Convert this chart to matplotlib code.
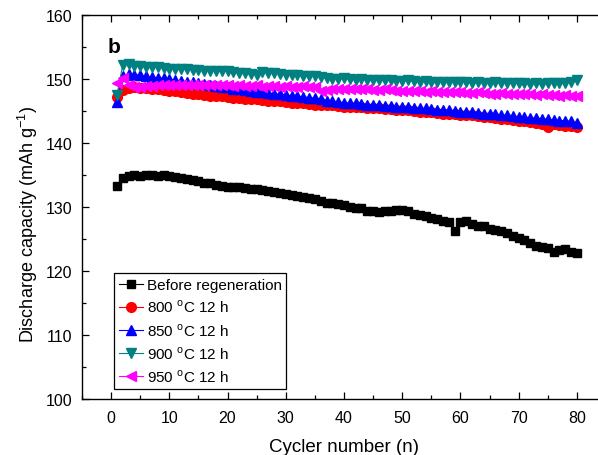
import matplotlib
matplotlib.use("Agg")
import matplotlib.pyplot as plt
from matplotlib.ticker import MultipleLocator

plt.rcParams['font.family'] = ['Liberation Sans', 'DejaVu Sans']
plt.rcParams['mathtext.fontset'] = 'custom'
plt.rcParams['mathtext.rm'] = 'Liberation Sans'

cycles = list(range(1, 81))

before = [133.3, 134.6, 134.9, 135.0, 134.9, 135.0, 135.0, 134.9, 135.0, 134.8,
          134.7, 134.5, 134.3, 134.2, 134.0, 133.8, 133.7, 133.5, 133.3, 133.2,
          133.2, 133.1, 132.9, 132.8, 132.8, 132.6, 132.5, 132.4, 132.2, 132.0,
          131.9, 131.7, 131.5, 131.4, 131.2, 130.9, 130.7, 130.6, 130.4, 130.3,
          130.0, 129.8, 129.8, 129.4, 129.3, 129.2, 129.4, 129.3, 129.5, 129.6,
          129.3, 128.9, 128.7, 128.6, 128.3, 128.2, 127.8, 127.6, 126.2, 127.7,
          127.8, 127.4, 127.1, 127.0, 126.6, 126.4, 126.2, 125.9, 125.4, 125.2,
          124.8, 124.3, 123.9, 123.7, 123.6, 123.0, 123.3, 123.4, 122.9, 122.8]

s800 = [147.2, 148.3, 148.6, 148.7, 148.6, 148.6, 148.5, 148.4, 148.3, 148.2,
        148.1, 148.0, 147.8, 147.7, 147.6, 147.5, 147.4, 147.3, 147.3, 147.2,
        147.1, 147.0, 146.9, 146.9, 146.8, 146.7, 146.6, 146.6, 146.5, 146.4,
        146.3, 146.3, 146.2, 146.1, 146.0, 146.0, 145.9, 145.9, 145.8, 145.7,
        145.7, 145.6, 145.6, 145.5, 145.4, 145.4, 145.3, 145.3, 145.2, 145.1,
        145.1, 145.0, 144.9, 144.9, 144.8, 144.7, 144.6, 144.6, 144.5, 144.4,
        144.3, 144.3, 144.2, 144.1, 144.0, 143.9, 143.8, 143.7, 143.6, 143.5,
        143.4, 143.3, 143.2, 143.0, 142.5, 142.9, 142.8, 142.7, 142.6, 142.5]

s850 = [146.4, 150.5, 150.8, 150.7, 150.6, 150.4, 150.3, 150.2, 150.1, 150.0,
        149.8, 149.7, 149.6, 149.5, 149.3, 149.2, 149.0, 148.9, 148.8, 148.7,
        148.5, 148.4, 148.3, 148.1, 148.0, 147.9, 147.8, 147.7, 147.6, 147.5,
        147.4, 147.3, 147.2, 147.1, 147.0, 146.9, 146.6, 146.5, 146.4, 146.3,
        146.2, 146.2, 146.1, 146.0, 146.0, 145.9, 145.8, 145.8, 145.7, 145.6,
        145.6, 145.5, 145.4, 145.4, 145.3, 145.2, 145.2, 145.1, 145.0, 144.9,
        144.8, 144.8, 144.7, 144.6, 144.5, 144.5, 144.4, 144.3, 144.2, 144.1,
        144.0, 143.9, 143.9, 143.8, 143.7, 143.6, 143.5, 143.5, 143.4, 143.2]

s900 = [147.5, 152.2, 152.3, 152.1, 152.0, 151.9, 151.8, 151.9, 151.7, 151.6,
        151.6, 151.5, 151.5, 151.4, 151.4, 151.3, 151.3, 151.2, 151.2, 151.2,
        151.1, 151.0, 151.0, 150.8, 150.7, 151.1, 150.9, 150.9, 150.8, 150.7,
        150.6, 150.6, 150.5, 150.4, 150.4, 150.3, 150.1, 150.0, 150.0, 150.1,
        150.0, 149.9, 150.0, 149.9, 149.8, 149.8, 149.9, 149.8, 149.7, 149.7,
        149.8, 149.7, 149.6, 149.7, 149.6, 149.5, 149.6, 149.5, 149.5, 149.6,
        149.5, 149.4, 149.5, 149.4, 149.4, 149.5, 149.4, 149.3, 149.4, 149.3,
        149.3, 149.2, 149.3, 149.2, 149.3, 149.4, 149.3, 149.4, 149.5, 149.9]

s950 = [149.3, 150.2, 149.0, 148.7, 148.8, 148.9, 148.9, 149.0, 149.0, 149.0,
        149.1, 149.0, 149.1, 149.0, 149.1, 149.0, 149.0, 149.1, 149.0, 149.0,
        148.9, 149.0, 148.9, 148.9, 149.0, 148.8, 148.9, 148.9, 148.8, 148.9,
        148.8, 148.8, 148.9, 148.8, 148.7, 148.2, 148.3, 148.4, 148.5, 148.5,
        148.4, 148.5, 148.4, 148.4, 148.3, 148.3, 148.4, 148.3, 148.2, 148.2,
        148.1, 148.2, 148.1, 148.0, 148.1, 148.0, 147.9, 148.0, 147.9, 147.9,
        147.8, 147.8, 147.9, 147.8, 147.7, 147.7, 147.8, 147.7, 147.6, 147.7,
        147.6, 147.6, 147.5, 147.6, 147.5, 147.5, 147.4, 147.5, 147.4, 147.4]

labels = ['Before regeneration',
          '800 $^{\\mathrm{o}}$C 12 h',
          '850 $^{\\mathrm{o}}$C 12 h',
          '900 $^{\\mathrm{o}}$C 12 h',
          '950 $^{\\mathrm{o}}$C 12 h']

W, H = 598, 456
fig = plt.figure(figsize=(W / 100, H / 100), dpi=100)
ax = fig.add_axes([82 / W, 56 / H, (606 - 82) / W, 384 / H])

styles = [
    (before, 'black', 's', 6.3),
    (s800, '#ff0000', 'o', 7.0),
    (s850, '#0000ff', '^', 7.5),
    (s900, '#008080', 'v', 7.5),
    (s950, '#ff00ff', '<', 7.5),
]
for (vals, c, m, ms), lab in zip(styles, labels):
    ax.plot(cycles, vals, color=c, marker=m, markersize=ms, lw=0.8,
            markeredgecolor=c, markerfacecolor=c, label=lab)

ax.set_xlim(-5, 85)
ax.set_ylim(100, 160)
ax.xaxis.set_major_locator(MultipleLocator(10))
ax.xaxis.set_minor_locator(MultipleLocator(5))
ax.yaxis.set_major_locator(MultipleLocator(10))
ax.yaxis.set_minor_locator(MultipleLocator(5))
ax.tick_params(which='both', direction='in', top=True, right=True, labelsize=11.5, width=0.9)
ax.tick_params(which='major', length=5)
ax.tick_params(which='minor', length=3)
ax.tick_params(axis='x', which='both', pad=8)
ax.tick_params(axis='y', which='both', pad=7)
for sp in ax.spines.values():
    sp.set_linewidth(1.0)

ax.set_xlabel('Cycler number (n)', fontsize=13.5, labelpad=9)
ax.set_ylabel('Discharge capacity (mAh g$^{\\mathrm{-1}}$)', fontsize=13.0)
ax.yaxis.set_label_coords(-0.080, 0.456)

ax.text(0.048, 0.919, 'b', transform=ax.transAxes, fontsize=15, fontweight='bold',
        va='center', ha='left')

leg = ax.legend(loc='lower left', bbox_to_anchor=(0.061, 0.026), fontsize=11,
                frameon=True, fancybox=False, edgecolor='black', framealpha=1,
                handlelength=1.6, handletextpad=0.25, borderpad=0.3,
                labelspacing=0.42, borderaxespad=0)
leg.get_frame().set_linewidth(0.9)

fig.savefig('out.png', dpi=100)
